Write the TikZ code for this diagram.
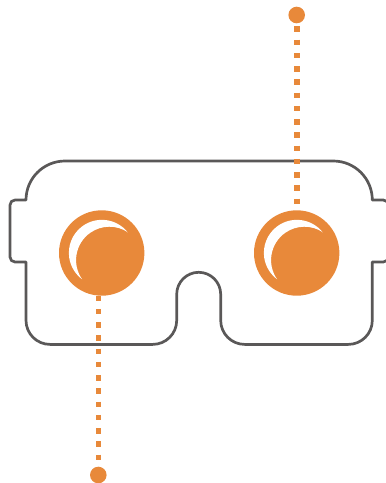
\documentclass[tikz,border=0pt]{standalone}
\definecolor{vrorange}{HTML}{E8893A}
\definecolor{vrgray}{HTML}{5A5858}
\tikzset{
  lens/.style={circle,fill=vrorange,inner sep=0pt,minimum size=85.4pt},
  enddot/.style={circle,fill=vrorange,inner sep=0pt,minimum size=16.6pt},
  leader/.style={vrorange,line width=5.6pt,dash pattern=on 5.4pt off 7.85pt},
  shell/.style={vrgray,line width=2.7pt,line join=round},
  glint/.style={fill=white,draw=none}
}
\begin{document}
\begin{tikzpicture}[x=1pt,y=1pt]
\useasboundingbox (0,0) rectangle (386,-483);
\clip (0,0) rectangle (386,-483);
% headset shell
\draw[shell] (26,-200) arc[start angle=180,end angle=90,radius=39]
  -- (333.3,-161) arc[start angle=90,end angle=0,radius=39]
  -- (383.3,-200) arc[start angle=90,end angle=0,radius=5]
  -- (388.3,-257) arc[start angle=0,end angle=-90,radius=5]
  -- (372.3,-262) -- (372.3,-320.4) arc[start angle=0,end angle=-90,radius=24]
  -- (244.7,-344.4) arc[start angle=270,end angle=180,radius=24]
  -- (220.7,-294.3) arc[start angle=0,end angle=180,radius=22]
  -- (176.7,-320.4) arc[start angle=0,end angle=-90,radius=24]
  -- (50,-344.4) arc[start angle=270,end angle=180,radius=24]
  -- (26,-262) -- (15,-262) arc[start angle=270,end angle=180,radius=5]
  -- (10,-205) arc[start angle=180,end angle=90,radius=5]
  -- cycle;
% end dots
\node[enddot] (dotT) at (296.7,-15) {};
\node[enddot] (dotB) at (98.3,-475) {};
% lenses
\node[lens] (lensL) at (101.7,-253) {};
\node[lens] (lensR) at (296.7,-253) {};
% leaders
\draw[leader,dash phase=10.3pt] (dotT.south) -- (lensR.north);
\draw[leader] (dotB |- 0,-295.7) -- (dotB.north);
% glints
\foreach \c in {lensL,lensR}{
  \fill[glint] ([shift={(26,20.7)}]\c.center)
    arc[start angle=38.5,end angle=233.2,radius=33]
    arc[start angle=215,end angle=56.5,radius=33.4];
}
\end{tikzpicture}
\end{document}
